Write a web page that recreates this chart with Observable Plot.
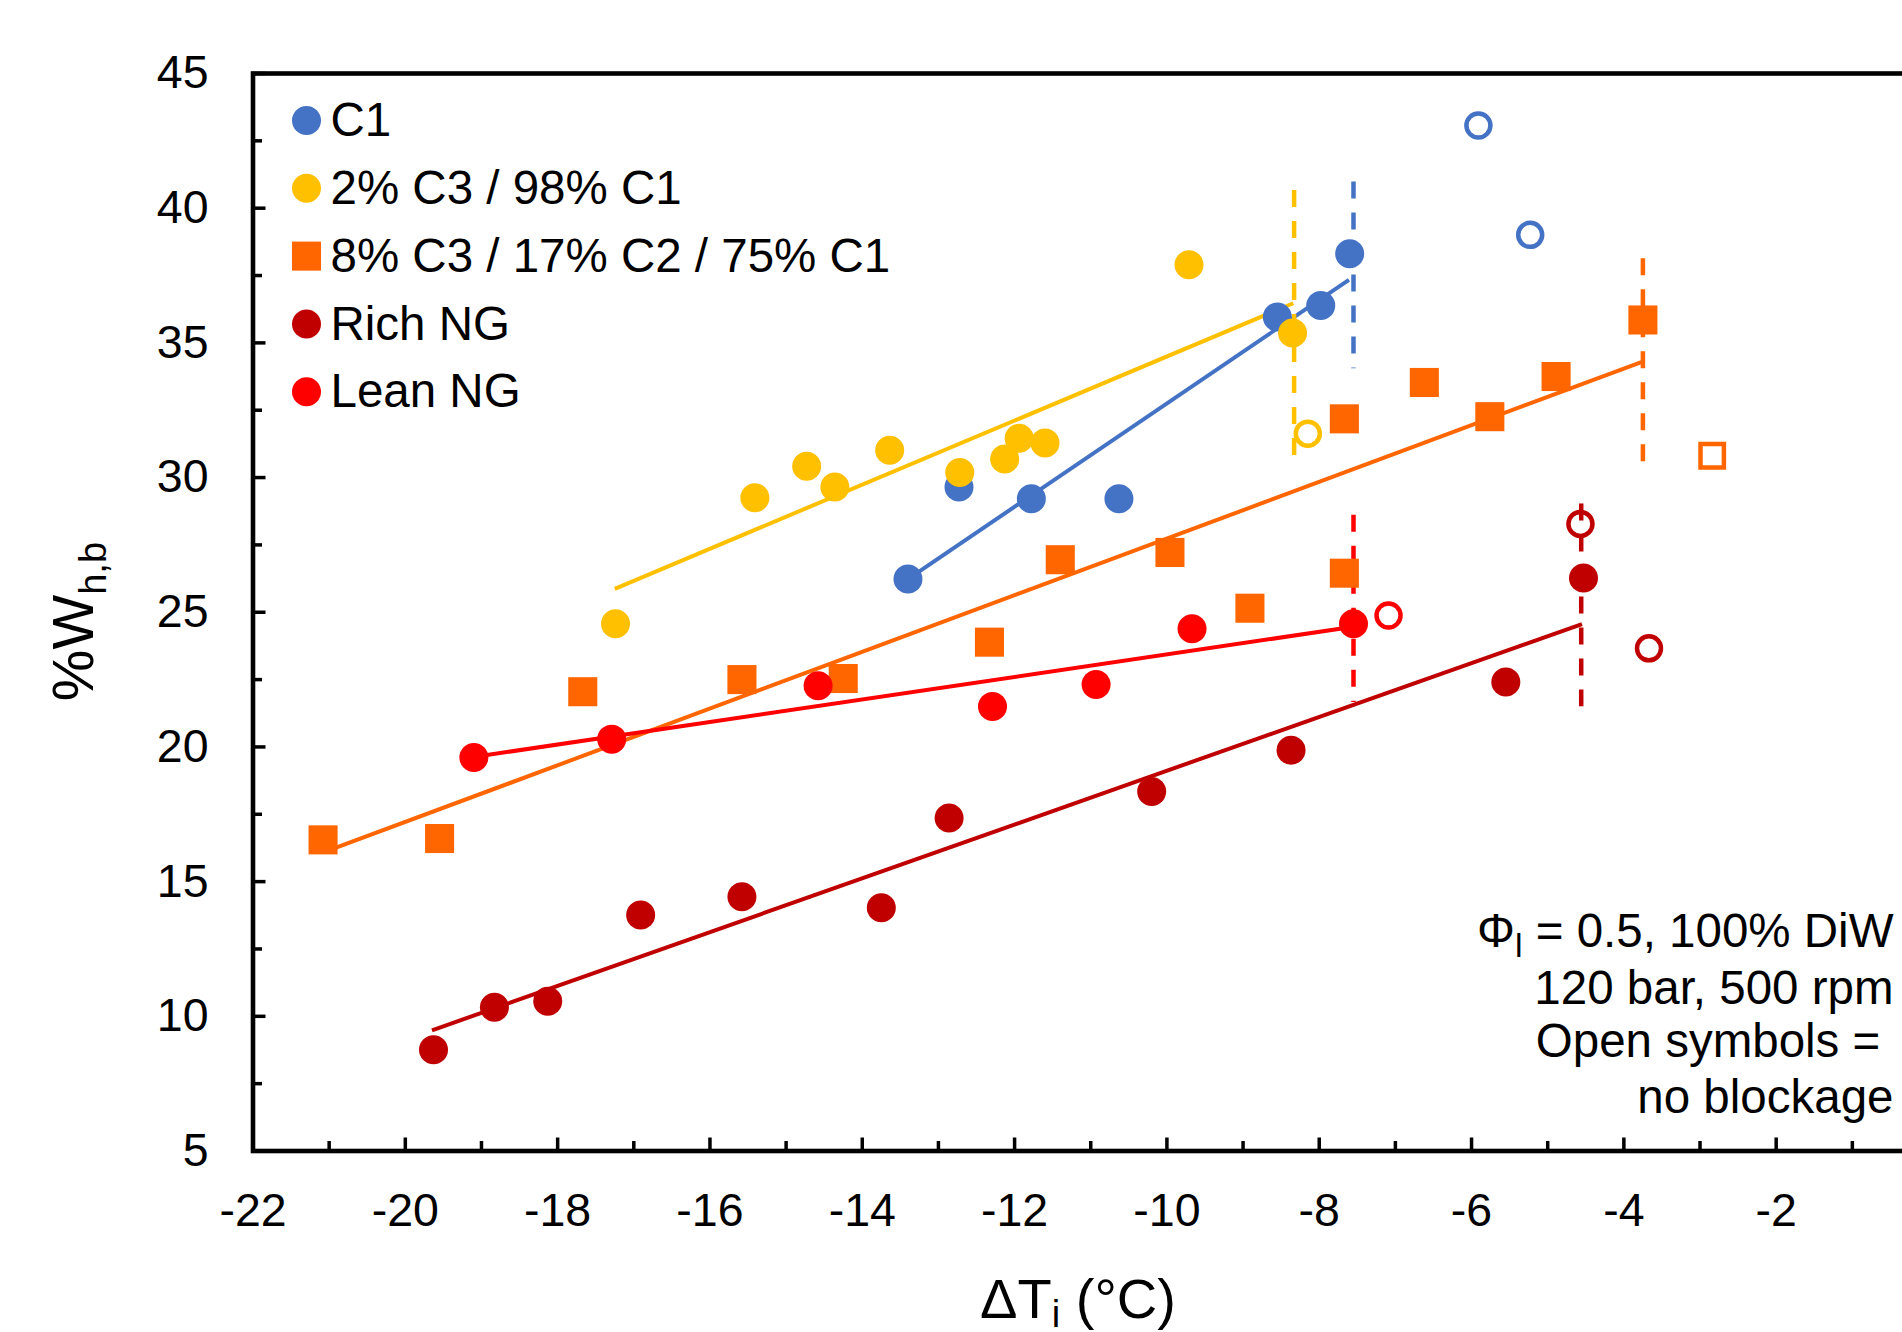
<!DOCTYPE html>
<html>
<head>
<meta charset="utf-8">
<script src="https://cdn.jsdelivr.net/npm/d3@7"></script>
<script src="https://cdn.jsdelivr.net/npm/@observablehq/plot@0.6"></script>
<style>
  html, body { margin: 0; padding: 0; background: #fff; overflow: hidden; }
  #chart svg { max-width: none !important; display: block; }
</style>
</head>
<body>
<div id="chart"></div>
<script>
const FONT = '"Liberation Sans", Arial, Helvetica, sans-serif';

// Gas compositions
const seriesNames   = ["C1", "2% C3 / 98% C1", "8% C3 / 17% C2 / 75% C1", "Rich NG", "Lean NG"];
const seriesColors  = ["#4472C4", "#FFC000", "#FF6600", "#C00000", "#FF0000"];
const seriesSymbols = ["circle", "circle", "square", "circle", "circle"];

// Subcooling ΔTi (°C) and hydrate blockage fraction %W_h,b — filled = blockage
const c1X    = [-13.40, -12.73, -11.78, -10.63, -8.55, -7.98, -7.60];
const c1Y    = [26.23, 29.65, 29.21, 29.21, 35.96, 36.39, 38.31];
const c3sX   = [-17.24, -15.41, -14.73, -14.36, -13.64, -12.72, -12.13, -11.94, -11.60, -9.71, -8.35];
const c3sY   = [24.57, 29.25, 30.42, 29.65, 31.01, 30.19, 30.69, 31.46, 31.28, 37.90, 35.37];
const c3mX   = [-21.08, -19.55, -17.67, -15.58, -14.25, -12.33, -11.40, -9.96, -8.91, -7.67, -7.67, -6.62, -5.76, -4.89, -3.75];
const c3mY   = [16.55, 16.60, 22.05, 22.50, 22.54, 23.89, 26.95, 27.22, 25.15, 26.45, 32.18, 33.53, 32.26, 33.75, 35.85];
const richX  = [-19.63, -18.83, -18.13, -16.91, -15.58, -13.75, -12.86, -10.20, -8.37, -5.55, -4.53];
const richY  = [8.76, 10.34, 10.56, 13.76, 14.44, 14.03, 17.36, 18.35, 19.88, 22.41, 26.27];
const leanX  = [-19.10, -17.29, -14.58, -12.29, -10.93, -9.67, -7.55];
const leanY  = [19.61, 20.29, 22.27, 21.50, 22.32, 24.39, 24.57];

// Open symbols = no blockage
const c1OpenX   = [-5.91, -5.23];
const c1OpenY   = [43.07, 39.01];
const c3sOpenX  = [-8.15];
const c3sOpenY  = [31.63];
const c3mOpenX  = [-2.84];
const c3mOpenY  = [30.81];
const richOpenX = [-4.57, -3.67];
const richOpenY = [28.28, 23.66];
const leanOpenX = [-7.09];
const leanOpenY = [24.88];

// Linear fits (start and end points), one per composition
const fitX1 = [-13.40, -17.25, -21.06, -19.65, -19.10];
const fitY1 = [26.23, 25.87, 16.10, 9.48, 19.63];
const fitX2 = [-7.61, -8.34, -3.77, -4.55, -7.55];
const fitY2 = [37.34, 36.47, 34.29, 24.56, 24.46];

// Blockage threshold markers (dashed verticals)
const cutX      = [-7.55, -8.33, -3.75, -4.56, -7.55];
const cutTop    = [40.97, 40.66, 38.12, 29.02, 28.60];
const cutBottom = [34.04, 30.47, 30.21, 21.49, 21.65];

// Axis ticks
const xMajorTicks = [-22, -20, -18, -16, -14, -12, -10, -8, -6, -4, -2];
const xMinorTicks = [-21, -19, -17, -15, -13, -11, -9, -7, -5, -3, -1];
const yMajorTicks = [5, 10, 15, 20, 25, 30, 35, 40, 45];
const yMinorTicks = [7.5, 12.5, 17.5, 22.5, 27.5, 32.5, 37.5, 42.5];

// Condition note
const noteLines = ["Φl = 0.5, 100% DiW", "120 bar, 500 rpm", "Open symbols =\u00a0", "no blockage"];
const xTitle = "ΔTi (°C)";
const yTitle = "%Wh,b";

const filledX = [c1X, c3sX, c3mX, richX, leanX];
const filledY = [c1Y, c3sY, c3mY, richY, leanY];
const openX = [c1OpenX, c3sOpenX, c3mOpenX, richOpenX, leanOpenX];
const openY = [c1OpenY, c3sOpenY, c3mOpenY, richOpenY, leanOpenY];

const zip = (xs, ys) => xs.map((x, i) => ({x, y: ys[i]}));

const fits = seriesNames.map((name, i) => ({name, color: seriesColors[i], x1: fitX1[i], y1: fitY1[i], x2: fitX2[i], y2: fitY2[i]}));
const cuts = seriesNames.map((name, i) => ({name, color: seriesColors[i], x: cutX[i], y1: cutTop[i], y2: cutBottom[i]}));

const filledR = s => s === "square" ? 16.4 : 14.5;
const openR = s => s === "square" ? 13.2 : 12;

const marks = [];

// fitted trend lines
marks.push(Plot.link(fits, {
  x1: "x1", y1: "y1", x2: "x2", y2: "y2",
  stroke: d => d.color, strokeWidth: 4, strokeLinecap: "butt"
}));

// dashed threshold lines
marks.push(Plot.ruleX(cuts, {
  x: "x", y1: "y1", y2: "y2",
  stroke: d => d.color, strokeWidth: 4.5, strokeDasharray: "17,14"
}));

// data points
seriesNames.forEach((name, i) => {
  const sym = seriesSymbols[i], col = seriesColors[i];
  marks.push(Plot.dot(zip(openX[i], openY[i]), {
    x: "x", y: "y", symbol: sym, r: openR(sym),
    fill: "none", stroke: col, strokeWidth: 4.5
  }));
  marks.push(Plot.dot(zip(filledX[i], filledY[i]), {
    x: "x", y: "y", symbol: sym, r: filledR(sym),
    fill: col, stroke: "none"
  }));
});

// legend inside the frame
seriesNames.forEach((name, i) => {
  const sym = seriesSymbols[i];
  marks.push(Plot.dot([name], {
    x: null, y: null, frameAnchor: "top-left", dx: 53.5, dy: 47 + 67.8 * i,
    symbol: sym, r: filledR(sym), fill: seriesColors[i], stroke: "none"
  }));
  marks.push(Plot.text([name], {
    x: null, y: null, frameAnchor: "top-left", dx: 77.5, dy: 47.5 + 67.8 * i,
    text: d => d, textAnchor: "start", lineAnchor: "middle", fontSize: 47.5, fill: "black"
  }));
});

// condition note, bottom right
const noteDy = [-203.8, -147.2, -93.8, -38.2];
noteLines.forEach((line, i) => {
  marks.push(Plot.text([line], {
    x: null, y: null, frameAnchor: "bottom-right", dx: -35, dy: noteDy[i],
    text: d => d, textAnchor: "end", lineAnchor: "bottom", fontSize: 47.5, fill: "black"
  }));
});

// axis titles
marks.push(Plot.text([xTitle], {
  x: null, y: null, frameAnchor: "bottom", dx: -12.75, dy: 167,
  text: d => d, textAnchor: "middle", lineAnchor: "bottom", fontSize: 56, fill: "black"
}));
marks.push(Plot.text([yTitle], {
  x: null, y: null, frameAnchor: "left", dx: -160.5, dy: 9.3, rotate: -90,
  text: d => d, textAnchor: "middle", lineAnchor: "bottom", fontSize: 58, fill: "black"
}));

// axes: labels, inward ticks, frame
marks.push(Plot.axisX(xMajorTicks, {anchor: "bottom", tickSize: 0, tickPadding: 42, tickFormat: d => String(d), fontSize: 46.5, fill: "black", label: null}));
marks.push(Plot.axisY(yMajorTicks, {anchor: "left", tickSize: 0, tickPadding: 44.5, tickFormat: d => String(d), fontSize: 46.5, fill: "black", label: null}));
marks.push(Plot.axisX(xMajorTicks, {anchor: "bottom", tickSize: 13, dy: -13, fill: "none", stroke: "black", strokeWidth: 3.5, label: null}));
marks.push(Plot.axisX(xMinorTicks, {anchor: "bottom", tickSize: 9.5, dy: -9.5, fill: "none", stroke: "black", strokeWidth: 3.5, label: null}));
marks.push(Plot.axisY(yMajorTicks, {anchor: "left", tickSize: 13, dx: 13, fill: "none", stroke: "black", strokeWidth: 3.5, label: null}));
marks.push(Plot.axisY(yMinorTicks, {anchor: "left", tickSize: 9.5, dx: 9.5, fill: "none", stroke: "black", strokeWidth: 3.5, label: null}));
marks.push(Plot.frame({stroke: "black", strokeWidth: 4.6}));

const chart = Plot.plot({
  width: 1960,
  height: 1332,
  marginLeft: 252.5,
  marginRight: 32,
  marginTop: 73,
  marginBottom: 181.5,
  style: {fontFamily: FONT, fontSize: "46px", color: "black", background: "white", maxWidth: "none", overflow: "visible"},
  x: {domain: [-22, 0], label: null},
  y: {domain: [5, 45], label: null},
  marks
});
document.getElementById("chart").append(chart);

// subscripts in titles and note
function richText(plain, parts) {
  const el = [...chart.querySelectorAll("text")].find(t => t.textContent === plain);
  if (!el) return;
  while (el.firstChild) el.removeChild(el.firstChild);
  let cur = 0;
  for (const p of parts) {
    const ts = document.createElementNS("http://www.w3.org/2000/svg", "tspan");
    ts.textContent = p.text;
    const shift = p.shift || 0;
    if (shift !== cur) ts.setAttribute("dy", shift - cur);
    cur = shift;
    if (p.size) ts.setAttribute("font-size", p.size);
    el.appendChild(ts);
  }
}
richText(xTitle, [{text: "ΔT"}, {text: "i", size: 38, shift: 9}, {text: " (°C)"}]);
richText(yTitle, [{text: "%W"}, {text: "h,b", size: 38, shift: 13}]);
richText(noteLines[0], [{text: "Φ"}, {text: "l", size: 34, shift: 10}, {text: " = 0.5, 100% DiW"}]);
</script>
</body>
</html>
